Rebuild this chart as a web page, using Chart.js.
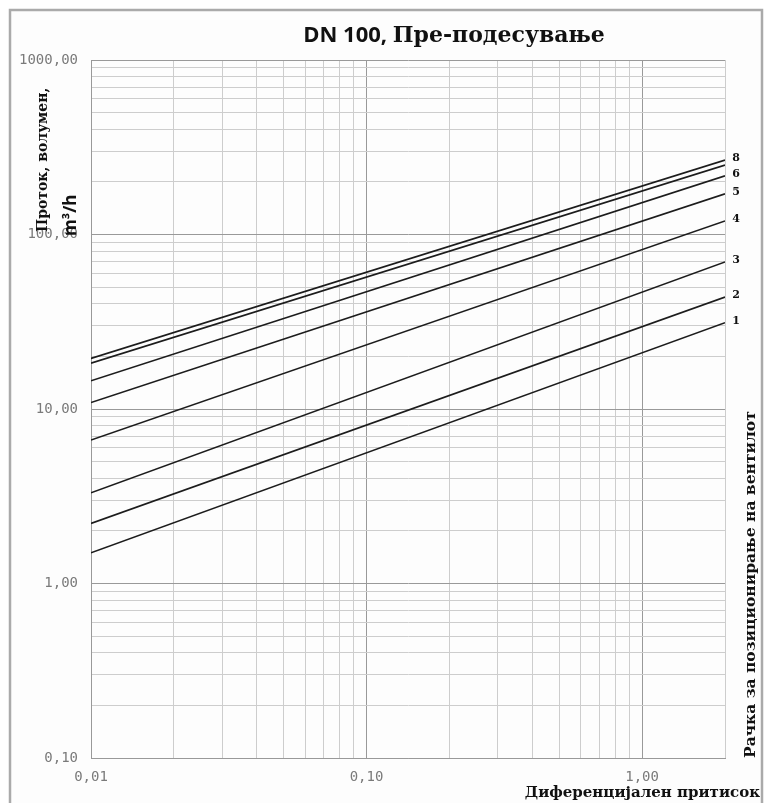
<!DOCTYPE html>
<html>
<head>
<meta charset="utf-8">
<script src="https://cdn.jsdelivr.net/npm/chart.js@4.4.1/dist/chart.umd.min.js"></script>
<style>
  html, body { margin: 0; padding: 0; background: #fff; }
  canvas { display: block; }
</style>
</head>
<body>
<canvas id="chart" width="768" height="803"></canvas>
<script>
// Differential pressure range and flow rates
const pressureEnds = [0.01, 2];
const settings = ["1", "2", "3", "4", "5", "6", "7", "8"];
const settingLabels = ["1", "2", "3", "4", "5", "6", "", "8"];
const flowAtMin = [1.5, 2.21, 3.31, 6.64, 10.9, 14.5, 18.3, 19.5];
const flowAtMax = [31.2, 43.8, 69.6, 119.5, 171, 217, 250, 267];

// Tick labels (decades only)
const xDecades = [0.01, 0.1, 1];
const xTickLabels = ["0,01", "0,10", "1,00"];
const yDecades = [0.1, 1, 10, 100, 1000];
const yTickLabels = ["0,10", "1,00", "10,00", "100,00", "1000,00"];

// 1..9 per decade, for the log grid
function logGrid(min, max) {
  const vals = [];
  for (let d = min; d <= max * 1.0001; d *= 10) {
    for (let k = 1; k <= 9; k++) {
      const v = +(k * d).toPrecision(6);
      if (v <= max * 1.0001) vals.push(v);
    }
  }
  return vals;
}

function decadeIndex(decades, v) {
  return decades.findIndex((d) => Math.abs(d - v) / d < 1e-6);
}

const datasets = settings.map((s, i) => ({
  label: s,
  data: [
    { x: pressureEnds[0], y: flowAtMin[i] },
    { x: pressureEnds[1], y: flowAtMax[i] },
  ],
  borderColor: "#1c1c1c",
  borderWidth: 1.6,
  pointRadius: 0,
  fill: false,
}));

// Frame, titles and setting numbers
const decorations = {
  id: "decorations",
  beforeDraw(chart) {
    const ctx = chart.ctx;
    ctx.save();
    ctx.fillStyle = "#fff";
    ctx.fillRect(0, 0, chart.width, chart.height);
    ctx.fillStyle = "#fdfdfd";
    ctx.fillRect(10, 10, 752, 820);
    ctx.strokeStyle = "#aaaaaa";
    ctx.lineWidth = 2.5;
    ctx.strokeRect(10, 10, 752, 820);
    ctx.restore();
  },
  afterDraw(chart) {
    const ctx = chart.ctx;
    const xs = chart.scales.x;
    const ys = chart.scales.y;
    ctx.save();
    ctx.fillStyle = "#111";
    ctx.textBaseline = "alphabetic";

    // main title, two fonts
    const t1 = "DN 100, ";
    const t2 = "Пре-подесување";
    ctx.font = 'bold 22px "Open Sans"';
    const w1 = ctx.measureText(t1).width;
    ctx.font = 'bold 22px "DejaVu Serif"';
    const w2 = ctx.measureText(t2).width;
    let tx = 454 - (w1 + w2) / 2;
    ctx.textAlign = "left";
    ctx.font = 'bold 22px "Open Sans"';
    ctx.fillText(t1, tx, 42);
    ctx.font = 'bold 22px "DejaVu Serif"';
    ctx.fillText(t2, tx + w1, 42);

    // y axis title
    ctx.save();
    ctx.translate(47, 232);
    ctx.rotate(-Math.PI / 2);
    ctx.font = 'bold 14px "DejaVu Serif"';
    ctx.fillText("Проток, волумен,", 0, 0);
    ctx.restore();
    ctx.save();
    ctx.translate(76, 236);
    ctx.rotate(-Math.PI / 2);
    ctx.font = 'bold 17px "Open Sans"';
    ctx.fillText("m³/h", 0, 0);
    ctx.restore();

    // right title
    ctx.save();
    ctx.translate(755, 758);
    ctx.rotate(-Math.PI / 2);
    ctx.font = 'bold 15.5px "DejaVu Serif"';
    ctx.fillText("Рачка за позиционирање на вентилот", 0, 0);
    ctx.restore();

    // x axis title
    ctx.textAlign = "right";
    ctx.font = 'bold 15px "DejaVu Serif"';
    ctx.fillText("Диференцијален притисок", 760, 797);

    // setting numbers at line ends
    ctx.textAlign = "center";
    ctx.textBaseline = "middle";
    ctx.font = 'bold 11px "DejaVu Serif"';
    settingLabels.forEach((lab, i) => {
      if (!lab) return;
      ctx.fillText(lab, xs.right + 11, ys.getPixelForValue(flowAtMax[i]) - 2);
    });
    ctx.restore();
  },
};

new Chart(document.getElementById("chart"), {
  type: "line",
  data: { datasets },
  options: {
    responsive: false,
    animation: false,
    devicePixelRatio: 1,
    layout: { padding: { top: 60, right: 43, bottom: 0, left: 0 } },
    plugins: {
      legend: { display: false },
      title: { display: false },
      tooltip: { enabled: false },
    },
    scales: {
      x: {
        type: "logarithmic",
        min: pressureEnds[0],
        max: pressureEnds[1],
        afterBuildTicks: (scale) => {
          scale.ticks = logGrid(pressureEnds[0], pressureEnds[1]).map((v) => ({ value: v }));
        },
        afterFit: (scale) => {
          scale.height = 45;
        },
        grid: {
          drawTicks: false,
          color: (c) => (c.tick && decadeIndex(xDecades, c.tick.value) >= 0 ? "#999999" : "#cdcdcd"),
          lineWidth: 1,
        },
        border: { color: "#999999" },
        ticks: {
          autoSkip: false,
          maxRotation: 0,
          padding: 11,
          color: "#7a7a7a",
          font: { family: '"DejaVu Sans Mono"', size: 14 },
          callback: (v) => {
            const i = decadeIndex(xDecades, v);
            return i >= 0 ? xTickLabels[i] : "";
          },
        },
      },
      y: {
        type: "logarithmic",
        min: yDecades[0],
        max: yDecades[yDecades.length - 1],
        afterBuildTicks: (scale) => {
          scale.ticks = logGrid(yDecades[0], yDecades[yDecades.length - 1]).map((v) => ({ value: v }));
        },
        afterFit: (scale) => {
          scale.width = 91;
        },
        grid: {
          drawTicks: false,
          color: (c) => (c.tick && decadeIndex(yDecades, c.tick.value) >= 0 ? "#999999" : "#cdcdcd"),
          lineWidth: 1,
        },
        border: { color: "#999999" },
        ticks: {
          autoSkip: false,
          padding: 13,
          color: "#7a7a7a",
          font: { family: '"DejaVu Sans Mono"', size: 14 },
          callback: (v) => {
            const i = decadeIndex(yDecades, v);
            return i >= 0 ? yTickLabels[i] : "";
          },
        },
      },
    },
  },
  plugins: [decorations],
});
</script>
</body>
</html>
